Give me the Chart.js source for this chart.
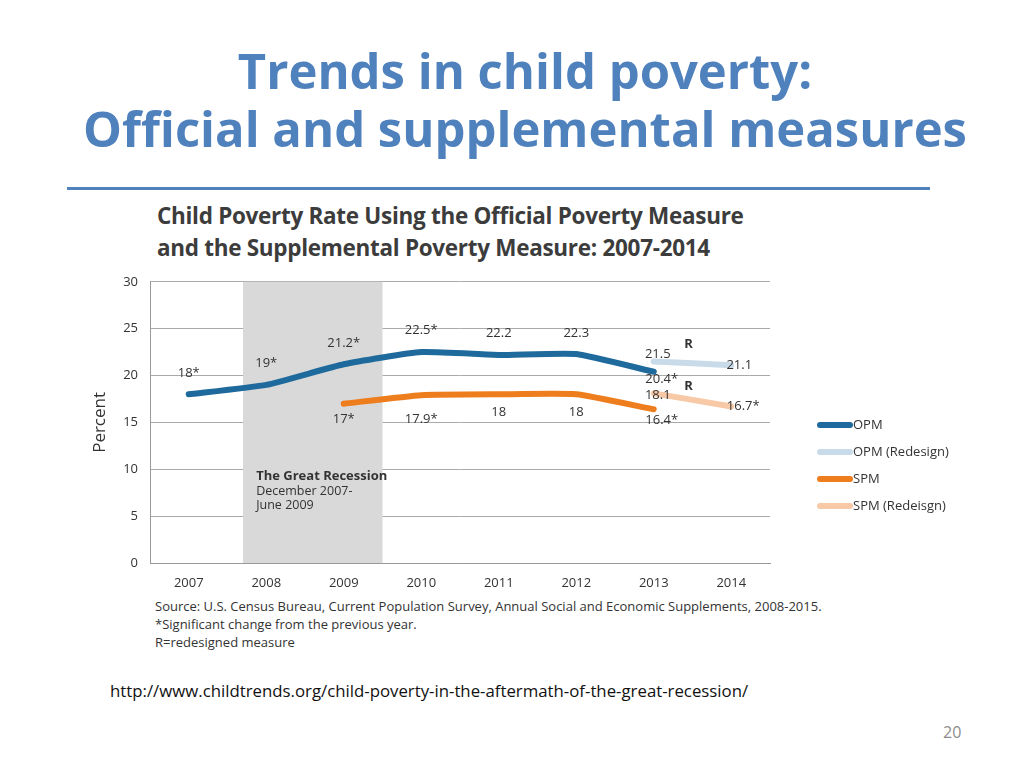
<!DOCTYPE html>
<html>
<head>
<meta charset="utf-8">
<script src="https://cdn.jsdelivr.net/npm/chart.js"></script>
<style>
  body { margin:0; width:1024px; height:768px; background:#fff; position:relative; font-family:"Open Sans",sans-serif; overflow:hidden; }
  .t { position:absolute; left:0; width:1050px; text-align:center; color:#4f81bd; font-weight:bold; font-size:49px; line-height:60px; }
  .rule { position:absolute; left:67px; top:187px; width:863px; height:3px; background:#4f81bd; }
  .ct { position:absolute; left:157px; color:#3c3c3c; font-weight:bold; font-size:22.5px; font-family:"Open Sans",sans-serif; letter-spacing:-0.3px; }
  .fn { position:absolute; left:155px; color:#333; font-size:13px; font-family:"Liberation Sans Narrow","Open Sans",sans-serif; }
  #wrap { position:absolute; left:90px; top:262px; width:880px; height:335px; }
</style>
</head>
<body>
<div class="t" style="top:40px">Trends in child poverty:</div>
<div class="t" style="top:98px">Official and supplemental measures</div>
<div class="rule"></div>
<div class="ct" style="top:200px">Child Poverty Rate Using the Official Poverty Measure</div>
<div class="ct" style="top:232px">and the Supplemental Poverty Measure: 2007-2014</div>
<div id="wrap"><canvas id="c" width="880" height="335"></canvas></div>
<div class="fn" style="top:597px">Source: U.S. Census Bureau, Current Population Survey, Annual Social and Economic Supplements, 2008-2015.</div>
<div class="fn" style="top:615px">*Significant change from the previous year.</div>
<div class="fn" style="top:633px">R=redesigned measure</div>
<div style="position:absolute;left:110px;top:679px;font-size:16.8px;color:#111">http://www.childtrends.org/child-poverty-in-the-aftermath-of-the-great-recession/</div>
<div style="position:absolute;left:943px;top:721px;font-size:16px;color:#8c8c8c">20</div>
<script>
const years = ['2007','2008','2009','2010','2011','2012','2013','2014'];
const opm = [18, 19, 21.2, 22.5, 22.2, 22.3, 20.4, null];
const opmRedesign = [null, null, null, null, null, null, 21.5, 21.1];
const spm = [null, null, 17, 17.9, 18, 18, 16.4, null];
const spmRedesign = [null, null, null, null, null, null, 18.1, 16.7];
const opmLabels = ['18*', '19*', '21.2*', '22.5*', '22.2', '22.3', '20.4*', ''];
const opmRedesignLabels = ['', '', '', '', '', '', '21.5', '21.1'];
const spmLabels = ['', '', '17*', '17.9*', '18', '18', '16.4*', ''];
const spmRedesignLabels = ['', '', '', '', '', '', '18.1', '16.7*'];
const recession = [0.7, 2.5];
const font = '"Liberation Sans Narrow","Open Sans",sans-serif';

// label offsets [dx, dy] per point
const offsets = [
  [[0,-21],[0,-22],[0,-21],[0,-22],[0,-22],[0,-21],[8,8],[0,0]],
  [[0,0],[0,0],[0,0],[0,0],[0,0],[0,0],[4,-7],[8,0]],
  [[0,0],[0,0],[0,16],[0,24],[0,18],[0,18],[8,11],[0,0]],
  [[0,0],[0,0],[0,0],[0,0],[0,0],[0,0],[4,2],[12,0]]
];
const allLabels = [opmLabels, opmRedesignLabels, spmLabels, spmRedesignLabels];

const extras = {
  id: 'extras',
  beforeDatasetsDraw(chart) {
    const {ctx, chartArea, scales:{x}} = chart;
    ctx.save();
    ctx.fillStyle = '#d9d9d9';
    const a = x.getPixelForValue(recession[0]), b = x.getPixelForValue(recession[1]);
    ctx.fillRect(a, chartArea.top, b - a, chartArea.bottom - chartArea.top);
    ctx.restore();
  },
  afterDatasetsDraw(chart) {
    const {ctx, chartArea, scales:{x, y}} = chart;
    ctx.save();
    ctx.textAlign = 'center'; ctx.textBaseline = 'middle';
    ctx.fillStyle = '#333';
    ctx.font = '13px ' + font;
    chart.data.datasets.forEach((ds, i) => {
      ds.data.forEach((v, j) => {
        const t = allLabels[i][j];
        if (v == null || !t) return;
        ctx.fillText(t, x.getPixelForValue(j) + offsets[i][j][0], y.getPixelForValue(v) + offsets[i][j][1]);
      });
    });
    ctx.font = 'bold 13px ' + font;
    ctx.fillText('R', x.getPixelForValue(6.45), y.getPixelForValue(23.3));
    ctx.fillText('R', x.getPixelForValue(6.45), y.getPixelForValue(18.9));
    ctx.textAlign = 'left';
    ctx.fillText('The Great Recession', x.getPixelForValue(0.87), y.getPixelForValue(9.2));
    ctx.font = '12.5px ' + font;
    ctx.fillText('December 2007-', x.getPixelForValue(0.87), y.getPixelForValue(7.6));
    ctx.fillText('June 2009', x.getPixelForValue(0.87), y.getPixelForValue(6.1));
    // legend
    ctx.font = '13px ' + font;
    chart.data.datasets.forEach((ds, i) => {
      const ly = 163 + i * 27;
      ctx.strokeStyle = ds.borderColor; ctx.lineWidth = 6; ctx.lineCap = 'round';
      ctx.beginPath(); ctx.moveTo(chartArea.right + 50, ly); ctx.lineTo(chartArea.right + 80, ly); ctx.stroke();
      ctx.fillText(ds.label, chartArea.right + 83, ly);
    });
    ctx.restore();
  }
};

new Chart(document.getElementById('c'), {
  type: 'line',
  data: {
    labels: years,
    datasets: [
      { label: 'OPM', data: opm, borderColor: '#1f6a9c' },
      { label: 'OPM (Redesign)', data: opmRedesign, borderColor: '#c9dbe9' },
      { label: 'SPM', data: spm, borderColor: '#ee7d1d' },
      { label: 'SPM (Redeisgn)', data: spmRedesign, borderColor: '#f7c9a6' }
    ].map(d => Object.assign(d, { borderWidth: 6, pointRadius: 0, tension: 0.15, fill: false, borderCapStyle: 'round' }))
  },
  options: {
    responsive: false, animation: false,
    layout: { padding: { left: 0, top: 17, right: 200, bottom: 0 } },
    plugins: { legend: { display: false }, tooltip: { enabled: false } },
    scales: {
      x: {
        offset: true,
        grid: { display: false, drawTicks: false },
        border: { color: '#999' },
        ticks: { color: '#333', font: { family: font, size: 13 }, padding: 12 },
        afterFit(s) { s.height = 34; }
      },
      y: {
        min: 0, max: 30,
        ticks: { stepSize: 5, color: '#333', font: { family: font, size: 13 }, padding: 12 },
        grid: { color: '#aaa', drawTicks: false },
        border: { color: '#999' },
        title: { display: true, text: 'Percent', color: '#333', font: { family: 'Open Sans', size: 17 }, padding: 0 },
        afterFit(s) { s.width = 60; }
      }
    }
  },
  plugins: [extras]
});
</script>
</body>
</html>
